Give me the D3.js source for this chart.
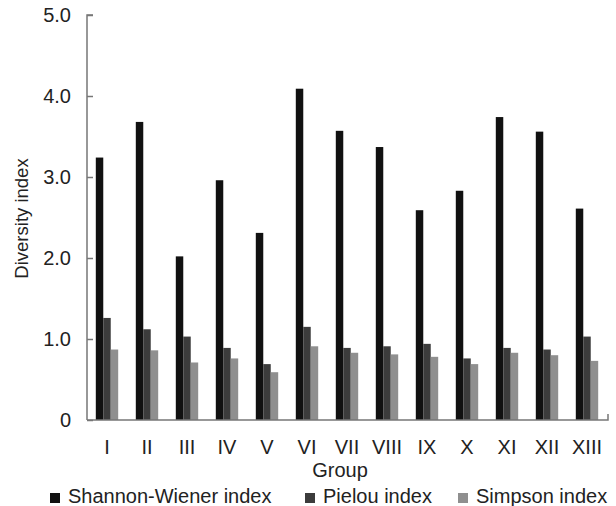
<!DOCTYPE html>
<html>
<head>
<meta charset="utf-8">
<script src="https://cdn.jsdelivr.net/npm/d3@7"></script>
<style>
  body { margin: 0; background: #fff; }
  text { font-family: "Liberation Sans", Arial, sans-serif; fill: #222; }
</style>
</head>
<body>
<svg width="616" height="506"></svg>
<script>
var groups = ["I", "II", "III", "IV", "V", "VI", "VII", "VIII", "IX", "X", "XI", "XII", "XIII"];
var shannon = [3.24, 3.68, 2.02, 2.96, 2.31, 4.09, 3.57, 3.37, 2.59, 2.83, 3.74, 3.56, 2.61];
var pielou = [1.26, 1.12, 1.03, 0.89, 0.69, 1.15, 0.89, 0.91, 0.94, 0.76, 0.89, 0.87, 1.03];
var simpson = [0.87, 0.86, 0.71, 0.76, 0.59, 0.91, 0.83, 0.81, 0.78, 0.69, 0.83, 0.80, 0.73];
var seriesNames = ["Shannon-Wiener index", "Pielou index", "Simpson index"];
var yTicks = [0, 1, 2, 3, 4, 5];
var yTickLabels = ["0", "1.0", "2.0", "3.0", "4.0", "5.0"];

var colors = ["#111111", "#3c3c3c", "#8f8f8f"];
var seriesData = [shannon, pielou, simpson];

var svg = d3.select("svg");
var plotLeft = 87, plotRight = 607, plotTop = 15, plotBottom = 420;

var x = d3.scaleBand().domain(groups).range([plotLeft, plotRight]).paddingInner(0.44).paddingOuter(0.22);
var xs = d3.scaleBand().domain([0, 1, 2]).range([0, x.bandwidth()]);
var y = d3.scaleLinear().domain([0, 5]).range([plotBottom, plotTop]);

// bars
var g = svg.append("g");
groups.forEach(function(grp, i) {
    g.selectAll(".bar" + i)
        .data(seriesData.map(function(s, k) { return { k: k, v: s[i] }; }))
        .enter()
        .append("rect")
        .attr("x", function(d) { return x(grp) + xs(d.k); })
        .attr("y", function(d) { return y(d.v); })
        .attr("width", xs.bandwidth())
        .attr("height", function(d) { return plotBottom - y(d.v); })
        .attr("fill", function(d) { return colors[d.k]; });
});

// y axis
var yAxis = d3.axisLeft(y)
    .tickValues(yTicks)
    .tickSize(-6)
    .tickPadding(16)
    .tickFormat(function(d, i) { return yTickLabels[i]; });
var ya = svg.append("g").attr("transform", "translate(" + plotLeft + ",0)").call(yAxis);
ya.select(".domain").attr("stroke", "#777").attr("stroke-width", 1.5)
    .attr("d", "M6," + plotTop + "H0V" + plotBottom);
ya.selectAll(".tick line").attr("stroke", "#777").attr("stroke-width", 1.5);
ya.selectAll(".tick text").style("font-size", "20px").attr("fill", "#222");

// x axis
var xa = svg.append("g").attr("transform", "translate(0," + plotBottom + ")")
    .call(d3.axisBottom(x).tickSize(0).tickPadding(20));
xa.select(".domain").attr("stroke", "#777").attr("stroke-width", 1.5)
    .attr("d", "M" + plotLeft + ",0H" + (plotRight + 1) + "V-6");
xa.selectAll(".tick text").style("font-size", "20px").attr("fill", "#222");

// axis titles
svg.append("text")
    .attr("transform", "translate(28," + ((plotTop + plotBottom) / 2 + 1) + ") rotate(-90)")
    .attr("text-anchor", "middle")
    .style("font-size", "18.5px")
    .text("Diversity index");

svg.append("text")
    .attr("x", 340)
    .attr("y", 477)
    .attr("text-anchor", "middle")
    .style("font-size", "20px")
    .text("Group");

// legend
var legendX = [50, 305, 458];
var lg = svg.selectAll(".legend")
    .data(seriesNames)
    .enter()
    .append("g")
    .attr("class", "legend")
    .attr("transform", function(d, i) { return "translate(" + legendX[i] + ",493)"; });
lg.append("rect")
    .attr("width", 10).attr("height", 10)
    .attr("fill", function(d, i) { return colors[i]; });
lg.append("text")
    .attr("x", 18)
    .attr("y", 10)
    .style("font-size", "20px")
    .text(function(d) { return d; });
</script>
</body>
</html>
